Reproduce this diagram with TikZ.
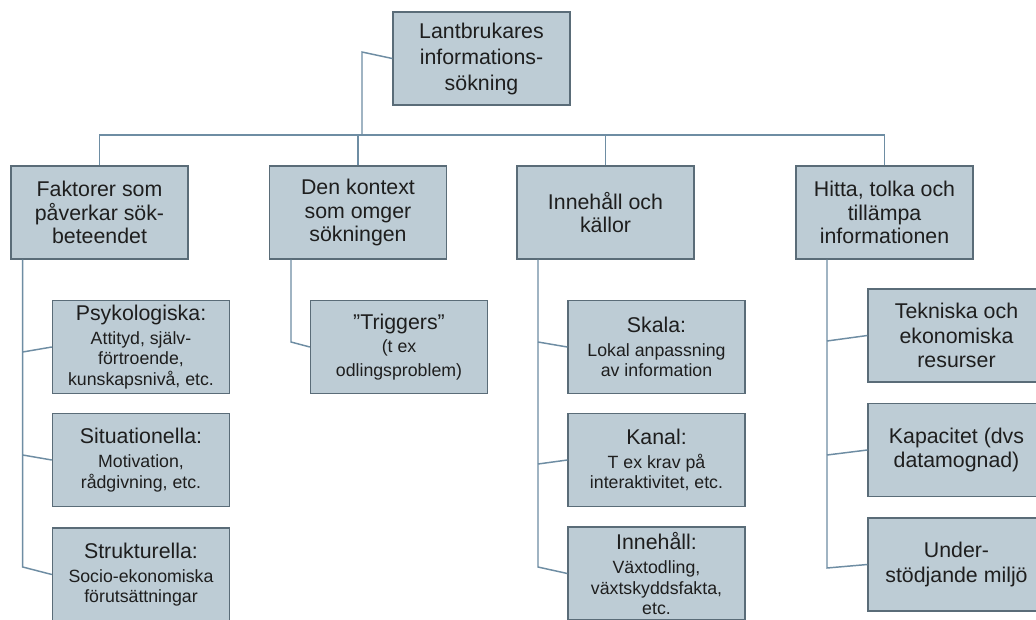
\documentclass[tikz,border=0pt]{standalone}
\usepackage{fontspec}
\setmainfont{Liberation Sans}
\definecolor{boxfill}{HTML}{BDCCD5}
\definecolor{boxline}{HTML}{5A6C78}
\definecolor{wirecol}{HTML}{6E8DA3}
\definecolor{ink}{HTML}{1E1E1E}
% heading and detail type sizes
\newcommand\hdf{\fontsize{16}{18}\selectfont}
\newcommand\sbf{\fontsize{13.3}{15.5}\selectfont}

\begin{document}
\begin{tikzpicture}[x=0.75pt,y=-0.75pt,
  box/.style={draw=boxline, fill=boxfill, line width=1pt,
    minimum width=132.75pt, minimum height=69.75pt,
    inner sep=0pt, align=center, text=ink},
  rootbox/.style={box, font=\fontsize{16}{19.5}\selectfont},
  mainbox/.style={box, font=\fontsize{16}{17.5}\selectfont},
  plainbox/.style={box, font=\fontsize{16}{18.5}\selectfont},
  detailbox/.style={box, font=\sbf},
  wire/.style={draw=wirecol, line width=1.1pt}]

\useasboundingbox (0,0) rectangle (1036,619);
\clip (0,0) rectangle (1036,619);
\fill[white] (0,0) rectangle (1036,619);

% root and first level
\node[rootbox] (root) at (481.5,58.5) {Lantbrukares\\informations-\\sökning};
\node[mainbox] (f1) at (99.5,212.5) {Faktorer som\\påverkar sök-\\beteendet};
\node[mainbox] (f2) at (358,212.5) {Den kontext\\som omger\\sökningen};
\node[mainbox] (f3) at (605.5,212.5) {Innehåll och\\källor};
\node[mainbox] (f4) at (884.5,212.5) {Hitta, tolka och\\tillämpa\\informationen};

% second level
\node[detailbox] (c11) at (141,347) {{\hdf Psykologiska:}\\[2.5pt]Attityd, själv-\\förtroende,\\kunskapsnivå, etc.};
\node[detailbox] (c12) at (141,460) {{\hdf Situationella:}\\[2.5pt]Motivation,\\rådgivning, etc.};
\node[detailbox] (c13) at (141,574.5) {{\hdf Strukturella:}\\[2.5pt]Socio-ekonomiska\\förutsättningar};

\node[detailbox] (c21) at (399,347) {{\hdf ”Triggers”}\\[2pt](t ex\\[2pt]odlingsproblem)};

\node[detailbox] (c31) at (656.5,347) {{\hdf Skala:}\\[2.5pt]Lokal anpassning\\av information};
\node[detailbox] (c32) at (656.5,460) {{\hdf Kanal:}\\[2.5pt]T ex krav på\\interaktivitet, etc.};
\node[detailbox] (c33) at (656.5,573.5) {{\hdf Innehåll:}\\[2.5pt]Växtodling,\\växtskyddsfakta,\\etc.};

\node[plainbox] (c41) at (956.5,335.5) {Tekniska och\\ekonomiska\\resurser};
\node[plainbox] (c42) at (956.5,450) {Kapacitet (dvs\\datamognad)};
\node[plainbox] (c43) at (956.5,564.5) {Under-\\stödjande miljö};

% bus from the root to the first level
\coordinate (rootbend) at (362,52);
\coordinate (hub) at (362,135);
\draw[wire] (root.west) -- (rootbend) -- (hub);
\draw[wire] (f1.north) |- (hub);
\draw[wire] (f2.north) |- (hub);
\draw[wire] (f3.north) |- (hub);
\draw[wire] (f4.north) |- (hub);

% column 1 trunk and branches
\coordinate (k11) at (22.7,352);
\coordinate (k12) at (22.7,455);
\coordinate (k13) at (22.7,567);
\draw[wire] (f1.south -| k13) -- (k13) -- (c13.west);
\draw[wire] (k11) -- (c11.west);
\draw[wire] (k12) -- (c12.west);

% column 2
\coordinate (k21) at (291,342);
\draw[wire] (f2.south -| k21) -- (k21) -- (c21.west);

% column 3
\coordinate (k31) at (538,342);
\coordinate (k32) at (538,464);
\coordinate (k33) at (538,567);
\draw[wire] (f3.south -| k33) -- (k33) -- (c33.west);
\draw[wire] (k31) -- (c31.west);
\draw[wire] (k32) -- (c32.west);

% column 4
\coordinate (k41) at (827,341);
\coordinate (k42) at (827,455);
\coordinate (k43) at (827,568);
\draw[wire] (f4.south -| k43) -- (k43) -- (c43.west);
\draw[wire] (k41) -- (c41.west);
\draw[wire] (k42) -- (c42.west);
\end{tikzpicture}
\end{document}
